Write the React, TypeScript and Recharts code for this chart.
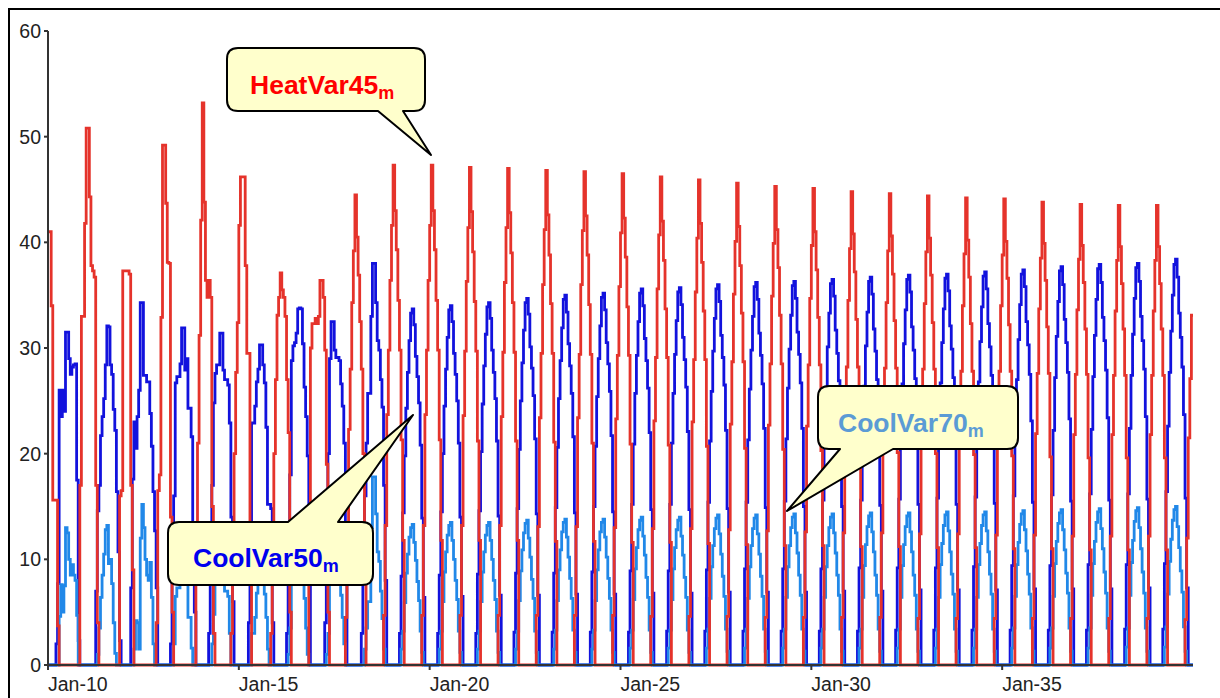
import { LineChart, Line, XAxis, YAxis } from "recharts"

// hourly values, one row per day, Jan 10 .. Feb 8
const heatVar45 = [
  41, 41, 34, 15.6, 15.6, 15.6, 3.7, 0, 0, 0, 0, 0, 0, 0, 0, 0, 0, 0, 0, 0, 17, 33, 33, 41.8,
  50.8, 50.8, 44.3, 37.8, 37.3, 36.7, 17, 4, 0, 0, 0, 0, 0, 0, 0, 0, 0, 0, 0, 0, 0, 16, 16.5, 37.3,
  37.3, 37.3, 37.3, 37, 17, 9, 0, 0, 0, 0, 0, 0, 0, 0, 0, 0, 0, 0, 0, 0, 4, 16.5, 18, 32.9,
  49.2, 49.2, 43.7, 38.1, 38, 14, 5, 0, 0, 0, 0, 0, 0, 0, 0, 0, 0, 0, 0, 0, 0, 10, 21, 31.2,
  42.1, 53.2, 43.8, 36.4, 34.8, 36.4, 34.8, 15, 3, 0, 0, 0, 0, 0, 0, 0, 0, 0, 0, 3, 12, 20, 27.7, 32.4,
  41.6, 46.2, 46.2, 46.2, 37.8, 29.5, 29.5, 12, 0, 0, 0, 0, 0, 0, 0, 0, 0, 0, 0, 0, 3, 10, 20, 27,
  33.1, 34.8, 37.1, 35.5, 34.8, 33, 27, 22, 5, 0, 0, 0, 0, 0, 0, 0, 0, 0, 0, 0, 10, 30, 32.3, 32.3,
  32.8, 32.3, 33, 36.4, 36.4, 34.8, 29.8, 19, 5, 0, 0, 0, 0, 0, 0, 0, 0, 0, 0, 4.5, 12.5, 22.3, 28, 34.3,
  39.2, 44.5, 40.5, 36.9, 32.5, 28.0, 20.0, 11.1, 0, 0, 0, 0, 0, 0, 0, 0, 0, 0, 0, 4.7, 13.2, 23.7, 29.8, 36.4,
  41.6, 47.3, 43.0, 39.3, 34.5, 29.8, 21.3, 11.8, 0, 0, 0, 0, 0, 0, 0, 0, 0, 0, 0, 4.7, 13.2, 23.7, 29.8, 36.4,
  41.6, 47.3, 43.0, 39.3, 34.5, 29.8, 21.3, 11.8, 0, 0, 0, 0, 0, 0, 0, 0, 0, 0, 0, 4.7, 13.2, 23.6, 29.7, 36.3,
  41.4, 47.1, 42.9, 39.1, 34.4, 29.7, 21.2, 11.8, 0, 0, 0, 0, 0, 0, 0, 0, 0, 0, 0, 4.7, 13.2, 23.5, 29.6, 36.2,
  41.4, 47.0, 42.8, 39.0, 34.3, 29.6, 21.2, 11.8, 0, 0, 0, 0, 0, 0, 0, 0, 0, 0, 0, 4.7, 13.1, 23.4, 29.5, 36.0,
  41.2, 46.8, 42.6, 38.8, 34.2, 29.5, 21.1, 11.7, 0, 0, 0, 0, 0, 0, 0, 0, 0, 0, 0, 4.7, 13.1, 23.4, 29.4, 36.0,
  41.1, 46.7, 42.5, 38.8, 34.1, 29.4, 21.0, 11.7, 0, 0, 0, 0, 0, 0, 0, 0, 0, 0, 0, 4.7, 13.0, 23.3, 29.3, 35.8,
  40.9, 46.5, 42.3, 38.6, 33.9, 29.3, 20.9, 11.6, 0, 0, 0, 0, 0, 0, 0, 0, 0, 0, 0, 4.6, 12.9, 23.1, 29.1, 35.6,
  40.7, 46.2, 42.0, 38.3, 33.7, 29.1, 20.8, 11.6, 0, 0, 0, 0, 0, 0, 0, 0, 0, 0, 0, 4.6, 12.9, 23.0, 28.9, 35.3,
  40.4, 45.9, 41.8, 38.1, 33.5, 28.9, 20.7, 11.5, 0, 0, 0, 0, 0, 0, 0, 0, 0, 0, 0, 4.6, 12.8, 22.8, 28.7, 35.1,
  40.1, 45.6, 41.5, 37.8, 33.3, 28.7, 20.5, 11.4, 0, 0, 0, 0, 0, 0, 0, 0, 0, 0, 0, 4.5, 12.7, 22.7, 28.5, 34.9,
  39.9, 45.3, 41.2, 37.6, 33.1, 28.5, 20.4, 11.3, 0, 0, 0, 0, 0, 0, 0, 0, 0, 0, 0, 4.5, 12.6, 22.6, 28.4, 34.7,
  39.7, 45.1, 41.0, 37.4, 32.9, 28.4, 20.3, 11.3, 0, 0, 0, 0, 0, 0, 0, 0, 0, 0, 0, 4.5, 12.5, 22.4, 28.2, 34.5,
  39.4, 44.8, 40.8, 37.2, 32.7, 28.2, 20.2, 11.2, 0, 0, 0, 0, 0, 0, 0, 0, 0, 0, 0, 4.5, 12.5, 22.3, 28.1, 34.3,
  39.2, 44.6, 40.6, 37.0, 32.6, 28.1, 20.1, 11.2, 0, 0, 0, 0, 0, 0, 0, 0, 0, 0, 0, 4.4, 12.4, 22.2, 28.0, 34.2,
  39.1, 44.4, 40.4, 36.9, 32.4, 28.0, 20.0, 11.1, 0, 0, 0, 0, 0, 0, 0, 0, 0, 0, 0, 4.4, 12.4, 22.1, 27.8, 34.0,
  38.9, 44.2, 40.2, 36.7, 32.3, 27.8, 19.9, 11.1, 0, 0, 0, 0, 0, 0, 0, 0, 0, 0, 0, 4.4, 12.3, 22.1, 27.8, 34.0,
  38.8, 44.1, 40.1, 36.6, 32.2, 27.8, 19.8, 11.0, 0, 0, 0, 0, 0, 0, 0, 0, 0, 0, 0, 4.4, 12.3, 21.9, 27.6, 33.7,
  38.5, 43.8, 39.9, 36.4, 32.0, 27.6, 19.7, 11.0, 0, 0, 0, 0, 0, 0, 0, 0, 0, 0, 0, 4.4, 12.2, 21.8, 27.5, 33.6,
  38.4, 43.6, 39.7, 36.2, 31.8, 27.5, 19.6, 10.9, 0, 0, 0, 0, 0, 0, 0, 0, 0, 0, 0, 4.4, 12.2, 21.8, 27.4, 33.5,
  38.3, 43.5, 39.6, 36.1, 31.8, 27.4, 19.6, 10.9, 0, 0, 0, 0, 0, 0, 0, 0, 0, 0, 0, 4.4, 12.2, 21.8, 27.4, 33.5,
  38.3, 43.5, 39.6, 36.1, 31.8, 27.4, 19.6, 10.9, 0, 0, 0, 0, 0, 0, 0, 0, 0, 0, 0, 4.3, 12.0, 21.5, 27.1, 33.1,
]

const coolVar50 = [
  0, 0, 0, 0, 0, 2, 7.7, 26, 23.5, 26, 24, 31.5, 31.5, 29, 27.5, 28.2, 28.4, 28.5, 17.5, 2.3, 0, 0, 0, 0,
  0, 0, 0, 0, 0, 0, 7, 14.6, 17, 21.7, 23.5, 25.2, 28.4, 32.1, 32, 28.4, 27.5, 24.2, 22.2, 16.4, 10.7, 2.3, 0, 0,
  0, 0, 0, 0, 7.3, 17.6, 23, 20.5, 23.5, 26, 34.3, 34.3, 27.4, 27.4, 26.8, 26.8, 23.8, 20.7, 16.4, 12.7, 7.3, 0, 0, 0,
  0, 0, 0, 0, 0, 2, 8, 16, 26.7, 27.3, 27.3, 28.5, 31.9, 31.9, 27.9, 29, 24.3, 24.3, 21.6, 13, 5, 0, 0, 0,
  0, 0, 0, 0, 0, 3, 9, 17, 24.8, 27.6, 28.4, 28.4, 31.4, 31.4, 27.9, 27, 27, 26.5, 22.9, 14, 6, 0, 0, 0,
  0, 0, 0, 0, 0, 0, 4, 12, 22.9, 22.9, 24.5, 26.8, 28, 30.3, 30.3, 28.4, 26.7, 22.5, 15.2, 15.2, 14.8, 4, 0, 0,
  0, 0, 0, 0, 0, 0, 3, 9, 18, 28.8, 30.2, 30.5, 31.4, 33.7, 33.8, 33.7, 30.4, 26.3, 23.5, 19.8, 9, 0, 0, 0,
  0, 0, 0, 0, 0, 0, 4, 10, 20, 29, 32.5, 32.5, 29.8, 29.1, 29.1, 28.8, 26.6, 24.5, 21, 12, 0, 0, 0, 0,
  0, 0, 0, 0, 0, 3, 9, 16, 21, 25.7, 25.7, 33, 38, 38, 34.3, 30.7, 29.8, 27, 24.4, 17, 8, 0, 0, 0,
  0, 0, 0, 0, 0, 3.0, 8.4, 14.4, 19.8, 24.3, 27.7, 30.7, 33.3, 33.7, 32.2, 29.2, 27.3, 24.8, 20.8, 13.9, 6.4, 0, 0, 0,
  0, 0, 0, 0, 0, 3.0, 8.5, 14.5, 20.0, 24.5, 28.0, 31.0, 33.6, 34.0, 32.5, 29.5, 27.5, 25.0, 21.0, 14.0, 6.5, 0, 0, 0,
  0, 0, 0, 0, 0, 3.0, 8.6, 14.6, 20.2, 24.7, 28.3, 31.3, 33.9, 34.3, 32.8, 29.8, 27.7, 25.2, 21.2, 14.1, 6.6, 0, 0, 0,
  0, 0, 0, 0, 0, 3.1, 8.7, 14.8, 20.4, 25.0, 28.6, 31.7, 34.3, 34.7, 33.2, 30.1, 28.1, 25.5, 21.4, 14.3, 6.6, 0, 0, 0,
  0, 0, 0, 0, 0, 3.1, 8.7, 14.9, 20.6, 25.2, 28.8, 31.9, 34.6, 35.0, 33.4, 30.4, 28.3, 25.7, 21.6, 14.4, 6.7, 0, 0, 0,
  0, 0, 0, 0, 0, 3.1, 8.8, 15.0, 20.7, 25.4, 29.0, 32.1, 34.8, 35.2, 33.6, 30.5, 28.5, 25.9, 21.7, 14.5, 6.7, 0, 0, 0,
  0, 0, 0, 0, 0, 3.1, 8.9, 15.2, 20.9, 25.7, 29.3, 32.5, 35.2, 35.6, 34.0, 30.9, 28.8, 26.2, 22.0, 14.7, 6.8, 0, 0, 0,
  0, 0, 0, 0, 0, 3.2, 8.9, 15.2, 21.0, 25.7, 29.4, 32.6, 35.3, 35.7, 34.1, 31.0, 28.9, 26.3, 22.1, 14.7, 6.8, 0, 0, 0,
  0, 0, 0, 0, 0, 3.2, 9.0, 15.4, 21.2, 25.9, 29.7, 32.8, 35.6, 36.0, 34.4, 31.2, 29.1, 26.5, 22.2, 14.8, 6.9, 0, 0, 0,
  0, 0, 0, 0, 0, 3.2, 9.1, 15.4, 21.3, 26.1, 29.8, 33.0, 35.8, 36.2, 34.6, 31.4, 29.3, 26.6, 22.4, 14.9, 6.9, 0, 0, 0,
  0, 0, 0, 0, 0, 3.2, 9.1, 15.5, 21.4, 26.2, 29.9, 33.1, 35.9, 36.3, 34.7, 31.5, 29.4, 26.7, 22.4, 15.0, 6.9, 0, 0, 0,
  0, 0, 0, 0, 0, 3.2, 9.1, 15.6, 21.5, 26.3, 30.1, 33.3, 36.1, 36.5, 34.9, 31.7, 29.5, 26.9, 22.6, 15.0, 7.0, 0, 0, 0,
  0, 0, 0, 0, 0, 3.2, 9.2, 15.6, 21.6, 26.4, 30.2, 33.4, 36.3, 36.7, 35.1, 31.8, 29.7, 27.0, 22.7, 15.1, 7.0, 0, 0, 0,
  0, 0, 0, 0, 0, 3.3, 9.2, 15.7, 21.7, 26.6, 30.4, 33.6, 36.5, 36.9, 35.3, 32.0, 29.8, 27.1, 22.8, 15.2, 7.1, 0, 0, 0,
  0, 0, 0, 0, 0, 3.3, 9.2, 15.8, 21.8, 26.7, 30.5, 33.7, 36.6, 37.0, 35.4, 32.1, 29.9, 27.2, 22.8, 15.2, 7.1, 0, 0, 0,
  0, 0, 0, 0, 0, 3.3, 9.3, 15.9, 21.9, 26.8, 30.6, 33.9, 36.8, 37.2, 35.6, 32.3, 30.1, 27.4, 23.0, 15.3, 7.1, 0, 0, 0,
  0, 0, 0, 0, 0, 3.3, 9.4, 16.0, 22.0, 27.0, 30.8, 34.1, 37.0, 37.4, 35.8, 32.5, 30.3, 27.5, 23.1, 15.4, 7.2, 0, 0, 0,
  0, 0, 0, 0, 0, 3.3, 9.4, 16.1, 22.2, 27.2, 31.1, 34.4, 37.3, 37.7, 36.0, 32.7, 30.5, 27.7, 23.3, 15.5, 7.2, 0, 0, 0,
  0, 0, 0, 0, 0, 3.3, 9.5, 16.2, 22.3, 27.3, 31.2, 34.6, 37.5, 37.9, 36.2, 32.9, 30.7, 27.9, 23.4, 15.6, 7.2, 0, 0, 0,
  0, 0, 0, 0, 0, 3.4, 9.5, 16.2, 22.4, 27.4, 31.3, 34.7, 37.6, 38.0, 36.3, 33.0, 30.7, 28.0, 23.5, 15.7, 7.3, 0, 0, 0,
  0, 0, 0, 0, 0, 3.4, 9.6, 16.4, 22.6, 27.7, 31.6, 35.0, 37.9, 38.4, 36.7, 33.3, 31.0, 28.2, 23.7, 15.8, 7.3, 0, 0, 0,
]

const coolVar70 = [
  0, 0, 0, 0, 0, 0, 0, 4.6, 7.6, 5, 7.5, 13, 12.5, 10, 8.5, 9.5, 8.5, 8, 4.7, 0, 0, 0, 0, 0,
  0, 0, 0, 0, 0, 0, 0, 1, 3.5, 6.4, 8.5, 10.5, 12.8, 13.2, 9.6, 10, 7.7, 4, 1.1, 0, 0, 0, 0, 0,
  0, 0, 0, 0, 0, 0, 1.5, 4.2, 4, 1.5, 12, 15.2, 13, 10, 8.5, 8, 9.7, 6.4, 2, 0, 0, 0, 0, 0,
  0, 0, 0, 0, 0, 0, 0, 2, 6.5, 7.3, 7.3, 8.5, 11.9, 11.9, 7.9, 9, 4.5, 4.5, 1.6, 0, 0, 0, 0, 0,
  0, 0, 0, 0, 0, 0, 0, 2, 4.8, 7.6, 8.4, 8.4, 11.4, 11.4, 7.9, 7, 7, 6.5, 3, 0, 0, 0, 0, 0,
  0, 0, 0, 0, 0, 0, 0, 0, 3, 3, 4.5, 6.8, 8, 10.3, 10.3, 8.4, 6.7, 4.5, 1.5, 0, 0, 0, 0, 0,
  0, 0, 0, 0, 0, 0, 0, 1, 3.5, 8.8, 10.2, 10.5, 11.4, 13.7, 13.8, 13.7, 10.4, 6.3, 3.5, 1, 0, 0, 0, 0,
  0, 0, 0, 0, 0, 0, 0, 1, 3, 9, 12.5, 12.5, 9.8, 9.1, 9.1, 8.8, 6.6, 4.5, 2, 0, 0, 0, 0, 0,
  0, 0, 0, 0, 0, 0, 0, 1.5, 3.5, 6, 6, 13, 17.8, 17.8, 14.3, 10.7, 9.8, 7, 4.4, 1.5, 0, 0, 0, 0,
  0, 0, 0, 0, 0, 0, 1.5, 3.2, 5.9, 8.7, 10.5, 12.1, 13.0, 13.3, 11.6, 9.9, 7.9, 6.1, 3.2, 1.2, 0, 0, 0, 0,
  0, 0, 0, 0, 0, 0, 1.5, 3.2, 6.0, 8.8, 10.7, 12.3, 13.2, 13.5, 11.8, 10.0, 8.0, 6.2, 3.2, 1.2, 0, 0, 0, 0,
  0, 0, 0, 0, 0, 0, 1.5, 3.2, 6.0, 8.8, 10.7, 12.3, 13.2, 13.5, 11.8, 10.0, 8.0, 6.2, 3.2, 1.2, 0, 0, 0, 0,
  0, 0, 0, 0, 0, 0, 1.5, 3.2, 6.1, 8.9, 10.9, 12.5, 13.4, 13.7, 12.0, 10.2, 8.1, 6.3, 3.2, 1.2, 0, 0, 0, 0,
  0, 0, 0, 0, 0, 0, 1.5, 3.3, 6.1, 9.0, 10.9, 12.6, 13.5, 13.8, 12.1, 10.2, 8.2, 6.3, 3.3, 1.2, 0, 0, 0, 0,
  0, 0, 0, 0, 0, 0, 1.5, 3.3, 6.1, 9.0, 10.9, 12.6, 13.5, 13.8, 12.1, 10.2, 8.2, 6.3, 3.3, 1.2, 0, 0, 0, 0,
  0, 0, 0, 0, 0, 0, 1.6, 3.3, 6.2, 9.1, 11.1, 12.8, 13.7, 14.0, 12.2, 10.4, 8.3, 6.4, 3.3, 1.2, 0, 0, 0, 0,
  0, 0, 0, 0, 0, 0, 1.6, 3.3, 6.2, 9.1, 11.1, 12.8, 13.7, 14.0, 12.2, 10.4, 8.3, 6.4, 3.3, 1.2, 0, 0, 0, 0,
  0, 0, 0, 0, 0, 0, 1.6, 3.4, 6.3, 9.3, 11.3, 12.9, 13.9, 14.2, 12.4, 10.5, 8.4, 6.5, 3.4, 1.3, 0, 0, 0, 0,
  0, 0, 0, 0, 0, 0, 1.6, 3.4, 6.3, 9.3, 11.3, 12.9, 13.9, 14.2, 12.4, 10.5, 8.4, 6.5, 3.4, 1.3, 0, 0, 0, 0,
  0, 0, 0, 0, 0, 0, 1.6, 3.4, 6.4, 9.3, 11.3, 13.0, 14.0, 14.3, 12.5, 10.6, 8.5, 6.6, 3.4, 1.3, 0, 0, 0, 0,
  0, 0, 0, 0, 0, 0, 1.6, 3.4, 6.4, 9.3, 11.3, 13.0, 14.0, 14.3, 12.5, 10.6, 8.5, 6.6, 3.4, 1.3, 0, 0, 0, 0,
  0, 0, 0, 0, 0, 0, 1.6, 3.4, 6.4, 9.4, 11.4, 13.1, 14.1, 14.4, 12.6, 10.7, 8.5, 6.6, 3.4, 1.3, 0, 0, 0, 0,
  0, 0, 0, 0, 0, 0, 1.6, 3.4, 6.4, 9.4, 11.4, 13.1, 14.1, 14.4, 12.6, 10.7, 8.5, 6.6, 3.4, 1.3, 0, 0, 0, 0,
  0, 0, 0, 0, 0, 0, 1.6, 3.4, 6.4, 9.5, 11.5, 13.2, 14.2, 14.5, 12.7, 10.7, 8.6, 6.7, 3.4, 1.3, 0, 0, 0, 0,
  0, 0, 0, 0, 0, 0, 1.6, 3.4, 6.4, 9.5, 11.5, 13.2, 14.2, 14.5, 12.7, 10.7, 8.6, 6.7, 3.4, 1.3, 0, 0, 0, 0,
  0, 0, 0, 0, 0, 0, 1.6, 3.5, 6.5, 9.5, 11.6, 13.3, 14.3, 14.6, 12.8, 10.8, 8.6, 6.7, 3.5, 1.3, 0, 0, 0, 0,
  0, 0, 0, 0, 0, 0, 1.6, 3.5, 6.5, 9.6, 11.7, 13.4, 14.4, 14.7, 12.8, 10.9, 8.7, 6.8, 3.5, 1.3, 0, 0, 0, 0,
  0, 0, 0, 0, 0, 0, 1.6, 3.5, 6.6, 9.6, 11.7, 13.5, 14.5, 14.8, 12.9, 11.0, 8.8, 6.8, 3.5, 1.3, 0, 0, 0, 0,
  0, 0, 0, 0, 0, 0, 1.7, 3.5, 6.6, 9.7, 11.8, 13.6, 14.6, 14.9, 13.0, 11.0, 8.8, 6.8, 3.5, 1.3, 0, 0, 0, 0,
  0, 0, 0, 0, 0, 0, 1.7, 3.6, 6.7, 9.8, 11.9, 13.7, 14.7, 15.0, 13.1, 11.1, 8.9, 6.9, 3.6, 1.3, 0, 0, 0, 0,
]

// x is hours since Jan 10 00:00
const dateTicks = [0, 120, 240, 360, 480, 600]
const dateLabels = ["Jan-10", "Jan-15", "Jan-20", "Jan-25", "Jan-30", "Jan-35"]
const valueTicks = [0, 10, 20, 30, 40, 50, 60]

const rows = heatVar45.map((v, i) => ({
  t: i,
  heat: v,
  cool50: coolVar50[i],
  cool70: coolVar70[i],
}))
// close the last hourly step at the right edge
const last = rows[rows.length - 1]
rows.push({ ...last, t: rows.length })

const FONT = "'Liberation Sans', Arial, sans-serif"

function DateTick(props: any) {
  const { x, y, payload } = props
  const label = dateLabels[dateTicks.indexOf(payload.value)]
  return (
    <text x={x} y={y + 19} textAnchor="start" fontSize={19.5} fontFamily={FONT} fill="#222">
      {label}
    </text>
  )
}

type CalloutProps = {
  x: number
  y: number
  w: number
  h: number
  side: "top" | "bottom"
  b1: number
  b2: number
  tip: [number, number]
  color: string
  name: string
  textX: number
  textY: number
}

function Callout({ x, y, w, h, side, b1, b2, tip, color, name, textX, textY }: CalloutProps) {
  const r = 11
  const [tx, ty] = tip
  const top =
    side === "top"
      ? `M${x + r},${y} H${b1} L${tx},${ty} L${b2},${y} H${x + w - r}`
      : `M${x + r},${y} H${x + w - r}`
  const bottom =
    side === "bottom"
      ? `H${b2} L${tx},${ty} L${b1},${y + h} H${x + r}`
      : `H${x + r}`
  const d =
    `${top} Q${x + w},${y} ${x + w},${y + r} V${y + h - r} Q${x + w},${y + h} ${x + w - r},${y + h} ` +
    `${bottom} Q${x},${y + h} ${x},${y + h - r} V${y + r} Q${x},${y} ${x + r},${y} Z`
  return (
    <g>
      <path d={d} fill="#FFFFCC" stroke="#000" strokeWidth={2} strokeLinejoin="round" />
      <text x={textX} y={textY} fontFamily={FONT} fontWeight="bold" fontSize={26.5} fill={color}>
        {name}
        <tspan fontSize={18} dy={5}>m</tspan>
      </text>
    </g>
  )
}

export default function App() {
  return (
    <div style={{ position: "relative", width: 1220, height: 698, overflow: "hidden", background: "#fff" }}>
      <style>{"html,body{margin:0;padding:0;overflow:hidden;background:#fff}"}</style>
      <div
        style={{
          position: "absolute",
          left: 8,
          top: 8,
          width: 1240,
          height: 720,
          borderLeft: "2px solid #000",
          borderTop: "2px solid #000",
        }}
      />
      <div style={{ position: "absolute", left: 8, top: 8 }}>
        <LineChart width={1212} height={690} data={rows} margin={{ top: 23, right: 27, bottom: 0, left: 0 }}>
          <XAxis
            dataKey="t"
            type="number"
            domain={[0, 720]}
            ticks={dateTicks}
            tick={<DateTick />}
            tickSize={5}
            height={33}
            stroke="#333"
            strokeWidth={2}
            allowDataOverflow
          />
          <XAxis xAxisId="top" orientation="top" dataKey="t" type="number" domain={[0, 720]} tick={false} tickLine={false} height={0} stroke="#444" strokeWidth={2} />
          <YAxis
            type="number"
            domain={[0, 60]}
            ticks={valueTicks}
            width={40}
            tickSize={4}
            tickMargin={3}
            stroke="#333"
            strokeWidth={2}
            tick={{ fontSize: 19.5, fontFamily: FONT, fill: "#222" }}
          />
          <YAxis yAxisId="right" orientation="right" domain={[0, 60]} tick={false} tickLine={false} width={0} stroke="#444" strokeWidth={2} />
          <Line type="stepAfter" dataKey="cool50" stroke="#1212DD" strokeWidth={2.8} dot={false} activeDot={false} isAnimationActive={false} />
          <Line type="stepAfter" dataKey="cool70" stroke="#2188E8" strokeWidth={2.8} dot={false} activeDot={false} isAnimationActive={false} />
          <Line type="stepAfter" dataKey="heat" stroke="#E5332B" strokeWidth={2.8} dot={false} activeDot={false} isAnimationActive={false} />
        </LineChart>
      </div>
      <svg width={1220} height={698} style={{ position: "absolute", left: 0, top: 0, pointerEvents: "none" }}>
        <Callout x={227} y={48} w={198} h={63} side="bottom" b1={378} b2={403} tip={[431, 155]} color="#FF0000" name="HeatVar45" textX={250} textY={94} />
        <Callout x={168} y={522} w={205} h={63} side="top" b1={288} b2={338} tip={[413, 415]} color="#0000EE" name="CoolVar50" textX={193} textY={567} />
        <Callout x={818} y={386} w={200} h={63} side="bottom" b1={840} b2={893} tip={[787, 511]} color="#5B9BD5" name="CoolVar70" textX={838} textY={432} />
      </svg>
    </div>
  )
}
